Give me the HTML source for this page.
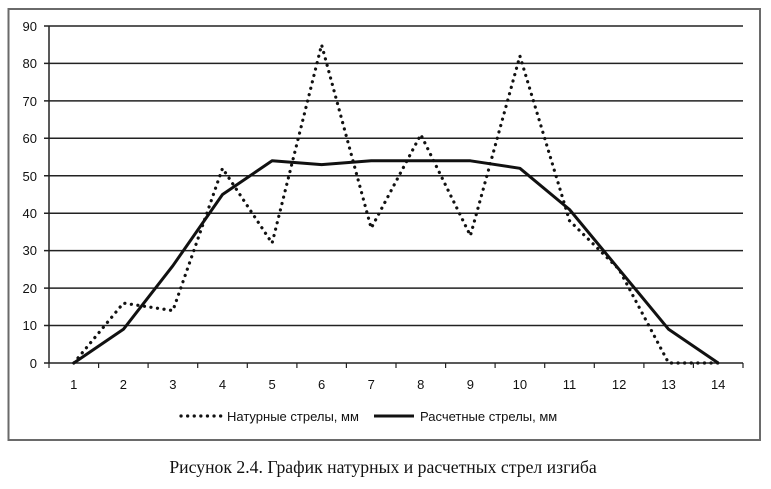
<!DOCTYPE html>
<html><head><meta charset="utf-8"><style>
body{margin:0;background:#fff;}
</style></head><body>
<svg width="771" height="484" viewBox="0 0 771 484" xmlns="http://www.w3.org/2000/svg">
<rect x="8.5" y="9" width="751.5" height="431" fill="#fff" stroke="#6a6a6a" stroke-width="2"/>
<g stroke="#222" stroke-width="1.5">
<line x1="44" y1="26" x2="743" y2="26"/>
<line x1="44" y1="63.4" x2="743" y2="63.4"/>
<line x1="44" y1="100.9" x2="743" y2="100.9"/>
<line x1="44" y1="138.3" x2="743" y2="138.3"/>
<line x1="44" y1="175.8" x2="743" y2="175.8"/>
<line x1="44" y1="213.2" x2="743" y2="213.2"/>
<line x1="44" y1="250.6" x2="743" y2="250.6"/>
<line x1="44" y1="288.1" x2="743" y2="288.1"/>
<line x1="44" y1="325.5" x2="743" y2="325.5"/>
<line x1="44" y1="363" x2="743" y2="363"/>
<line x1="49" y1="26" x2="49" y2="363"/>
</g>
<g stroke="#222" stroke-width="1.2">
<line x1="98.6" y1="363" x2="98.6" y2="368"/><line x1="148.1" y1="363" x2="148.1" y2="368"/><line x1="197.7" y1="363" x2="197.7" y2="368"/><line x1="247.3" y1="363" x2="247.3" y2="368"/><line x1="296.9" y1="363" x2="296.9" y2="368"/><line x1="346.4" y1="363" x2="346.4" y2="368"/><line x1="396" y1="363" x2="396" y2="368"/><line x1="445.6" y1="363" x2="445.6" y2="368"/><line x1="495.1" y1="363" x2="495.1" y2="368"/><line x1="544.7" y1="363" x2="544.7" y2="368"/><line x1="594.3" y1="363" x2="594.3" y2="368"/><line x1="643.9" y1="363" x2="643.9" y2="368"/><line x1="693.4" y1="363" x2="693.4" y2="368"/><line x1="743" y1="363" x2="743" y2="368"/><line x1="49" y1="363" x2="49" y2="368"/>
</g>
<g font-family="'Liberation Sans',sans-serif" font-size="13" fill="#111" text-anchor="end">
<text x="37" y="31">90</text><text x="37" y="68">80</text><text x="37" y="106">70</text><text x="37" y="143">60</text><text x="37" y="181">50</text><text x="37" y="218">40</text><text x="37" y="255">30</text><text x="37" y="293">20</text><text x="37" y="330">10</text><text x="37" y="368">0</text>
</g>
<g font-family="'Liberation Sans',sans-serif" font-size="13" fill="#111" text-anchor="middle">
<text x="73.8" y="389">1</text><text x="123.4" y="389">2</text><text x="172.9" y="389">3</text><text x="222.5" y="389">4</text><text x="272.1" y="389">5</text><text x="321.6" y="389">6</text><text x="371.2" y="389">7</text><text x="420.8" y="389">8</text><text x="470.4" y="389">9</text><text x="519.9" y="389">10</text><text x="569.5" y="389">11</text><text x="619.1" y="389">12</text><text x="668.6" y="389">13</text><text x="718.2" y="389">14</text>
</g>
<polyline fill="none" stroke="#111" stroke-width="3" stroke-linejoin="round" points="73.8,363 123.4,329.3 172.9,265.7 222.5,194.5 272.1,160.8 321.6,164.6 371.2,160.8 420.8,160.8 470.4,160.8 519.9,168.3 569.5,209.5 619.1,269.4 668.6,329.3 718.2,363"/>
<polyline fill="none" stroke="#111" stroke-width="3.2" stroke-linecap="round" stroke-dasharray="0.1 6.5" stroke-linejoin="round" points="73.8,363 123.4,303.1 172.9,310.6 222.5,168.3 272.1,243.2 321.6,44.8 371.2,228.2 420.8,134.6 470.4,235.7 519.9,56 569.5,220.7 619.1,269.4 668.6,363 718.2,363"/>
<line x1="181" y1="416" x2="221" y2="416" stroke="#111" stroke-width="3.2" stroke-linecap="round" stroke-dasharray="0.1 6.5"/>
<line x1="374" y1="416" x2="414" y2="416" stroke="#111" stroke-width="3"/>
<g font-family="'Liberation Sans',sans-serif" font-size="13" fill="#111">
<text x="227" y="421">Натурные стрелы, мм</text>
<text x="420" y="421">Расчетные стрелы, мм</text>
</g>
<text x="383" y="473" text-anchor="middle" font-family="'Liberation Serif',serif" font-size="17.7" fill="#111">Рисунок 2.4. График натурных и расчетных стрел изгиба</text>
</svg>
</body></html>
